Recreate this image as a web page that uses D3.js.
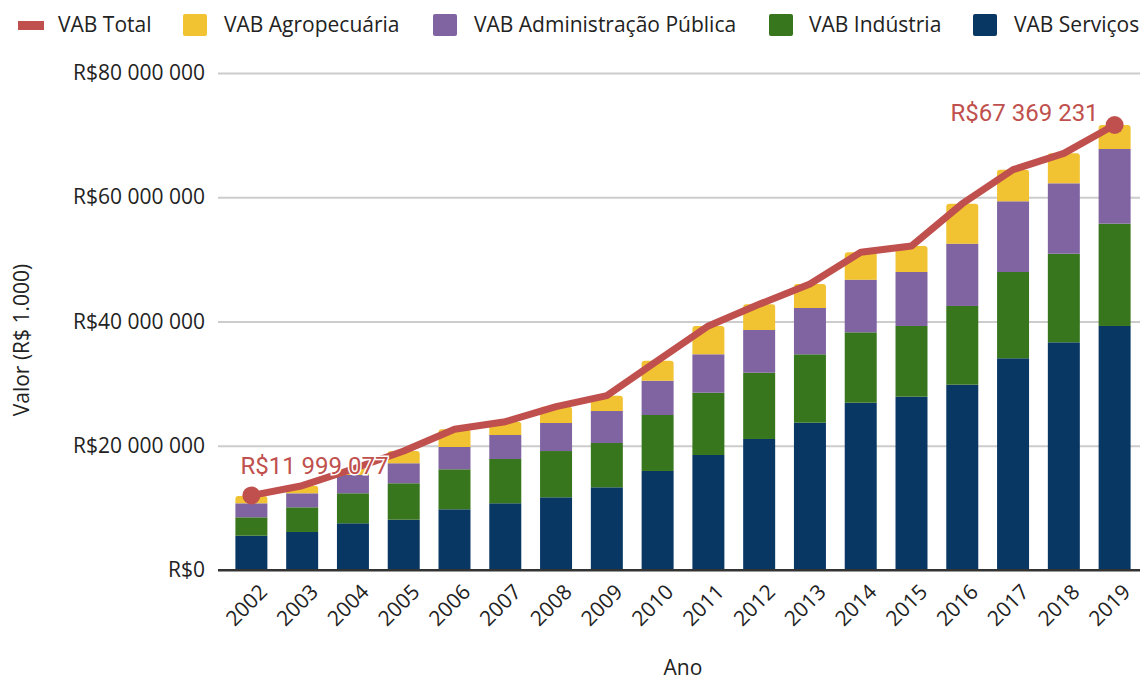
<!DOCTYPE html>
<html><head><meta charset="utf-8">
<script src="https://cdn.jsdelivr.net/npm/d3@7"></script>
<style>body{margin:0;background:#fff}svg{display:block}</style>
</head><body>
<svg id="c" width="1140" height="681"></svg>
<script>
const years = ["2002","2003","2004","2005","2006","2007","2008","2009","2010","2011","2012","2013","2014","2015","2016","2017","2018","2019"];
const servicos  = [5520000,6120000,7520000,8100000,9770000,10740000,11700000,13310000,15940000,18510000,21090000,23710000,26930000,27900000,29830000,34080000,36650000,39280000];
const industria = [2960000,3970000,4830000,5860000,6440000,7130000,7450000,7130000,9010000,10030000,10670000,11010000,11330000,11380000,12670000,13890000,14260000,16470000];
const adm       = [2250000,2250000,2950000,3220000,3590000,3860000,4510000,5150000,5520000,6180000,6870000,7450000,8470000,8690000,10030000,11380000,11330000,12020000];
const agro      = [1180000,1220000,970000,1980000,2850000,2140000,2620000,2460000,3220000,4560000,4140000,3860000,4410000,4190000,6440000,5090000,4830000,3860000];
const total     = [11999077,13570000,16260000,19150000,22650000,23870000,26290000,28060000,33690000,39280000,42770000,46040000,51140000,52150000,58960000,64440000,67070000,71630000];
const yTicks = [0,20000000,40000000,60000000,80000000];
const annotations = [{year:"2002", label:"R$11 999 077"},{year:"2019", label:"R$67 369 231"}];
const seriesNames = ["VAB Serviços","VAB Indústria","VAB Administração Pública","VAB Agropecuária"];
const seriesColors = ["#083763","#38761d","#8064a2","#f1c232"];
const lineName = "VAB Total", lineColor = "#c0504d";

(function(){
const svg = d3.select("#c");
const font = "'Open Sans', sans-serif";
const fs = 21;
const mL = 226, mR = 1140, mT = 73, mB = 570;
const x = d3.scaleBand().domain(years).range([mL, mR]).paddingInner(0.37).paddingOuter(0.185);
const y = d3.scaleLinear().domain([0, 80000000]).range([mB, mT]);
const loc = d3.formatLocale({decimal:",", thousands:" ", grouping:[3], currency:["R$",""]});
const fmt = loc.format("$,.0f");

// gridlines + y labels
const yAxis = d3.axisLeft(y).tickValues(yTicks).tickFormat(fmt).tickSize(0).tickPadding(0);
const ga = svg.append("g").attr("transform", `translate(${mL},0)`).call(yAxis);
ga.select(".domain").remove();
ga.selectAll(".tick line").attr("x1", -8).attr("x2", mR - mL)
  .attr("stroke", d => d === 0 ? "#333" : "#ccc").attr("stroke-width", 2);
ga.selectAll(".tick text").attr("x", -21).attr("font-family", font).attr("font-size", fs).attr("fill", "#222");

// stacked bars
const table = years.map((yr, i) => ({year: yr, s0: servicos[i], s1: industria[i], s2: adm[i], s3: agro[i]}));
const stack = d3.stack().keys(["s0","s1","s2","s3"])(table);
const gb = svg.append("g");
stack.forEach((layer, li) => {
  layer.forEach(d => {
    const x0 = x(d.data.year), w = x.bandwidth(), y0 = y(d[0]), y1 = y(d[1]);
    if (li === 3) {
      const r = 3;
      gb.append("path").attr("fill", seriesColors[li])
        .attr("d", `M${x0},${y0}V${y1 + r}Q${x0},${y1} ${x0 + r},${y1}H${x0 + w - r}Q${x0 + w},${y1} ${x0 + w},${y1 + r}V${y0}Z`);
    } else {
      gb.append("rect").attr("x", x0).attr("y", y1).attr("width", w).attr("height", y0 - y1).attr("fill", seriesColors[li]);
    }
  });
});

// baseline on top of bars
svg.append("line").attr("x1", mL - 8).attr("x2", mR).attr("y1", y(0)).attr("y2", y(0)).attr("stroke", "#333").attr("stroke-width", 2);

// total line
const cx = yr => x(yr) + x.bandwidth() / 2;
const line = d3.line().x((d, i) => cx(years[i])).y(d => y(d));
svg.append("path").datum(total).attr("d", line).attr("fill", "none")
  .attr("stroke", lineColor).attr("stroke-width", 7).attr("stroke-linejoin", "round");

annotations.forEach((a, k) => {
  const i = years.indexOf(a.year);
  svg.append("circle").attr("cx", cx(a.year)).attr("cy", y(total[i])).attr("r", 9).attr("fill", lineColor);
  const t = svg.append("text").text(a.label)
    .attr("font-family", "Roboto, sans-serif").attr("font-size", 24).attr("fill", lineColor)
    .attr("stroke", "#fff").attr("stroke-width", 3).attr("paint-order", "stroke");
  if (k === 0) t.attr("x", cx(a.year) - 11).attr("y", y(total[i]) - 21).attr("text-anchor", "start");
  else t.attr("x", cx(a.year) - 16).attr("y", y(total[i]) - 4).attr("text-anchor", "end");
});

// x axis labels
const gx = svg.append("g");
years.forEach(yr => {
  gx.append("text").text(yr)
    .attr("transform", `translate(${cx(yr) + 12},${588}) rotate(-45)`)
    .attr("text-anchor", "end").attr("dy", "0.35em")
    .attr("font-family", font).attr("font-size", fs).attr("fill", "#222");
});

// axis titles
svg.append("text").text("Ano").attr("x", 683).attr("y", 675).attr("text-anchor", "middle")
  .attr("font-family", font).attr("font-size", fs).attr("fill", "#222");
svg.append("text").text("Valor (R$ 1.000)").attr("transform", "translate(29,340) rotate(-90)")
  .attr("text-anchor", "middle").attr("font-family", font).attr("font-size", fs).attr("fill", "#222");

// legend
const legend = [
  {name: lineName, color: lineColor, type: "line", sx: 18, tx: 58},
  {name: seriesNames[3], color: seriesColors[3], type: "box", sx: 183, tx: 224},
  {name: seriesNames[2], color: seriesColors[2], type: "box", sx: 433, tx: 474},
  {name: seriesNames[1], color: seriesColors[1], type: "box", sx: 769, tx: 809},
  {name: seriesNames[0], color: seriesColors[0], type: "box", sx: 973, tx: 1014}
];
legend.forEach(l => {
  if (l.type === "line") svg.append("rect").attr("x", l.sx).attr("y", 21).attr("width", 26).attr("height", 9).attr("fill", l.color);
  else svg.append("rect").attr("x", l.sx).attr("y", 14).attr("width", 24).attr("height", 22).attr("rx", 2).attr("fill", l.color);
  svg.append("text").text(l.name).attr("x", l.tx).attr("y", 25).attr("dy", "0.35em")
    .attr("font-family", font).attr("font-size", fs).attr("fill", "#222");
});
})();
</script>
</body></html>
